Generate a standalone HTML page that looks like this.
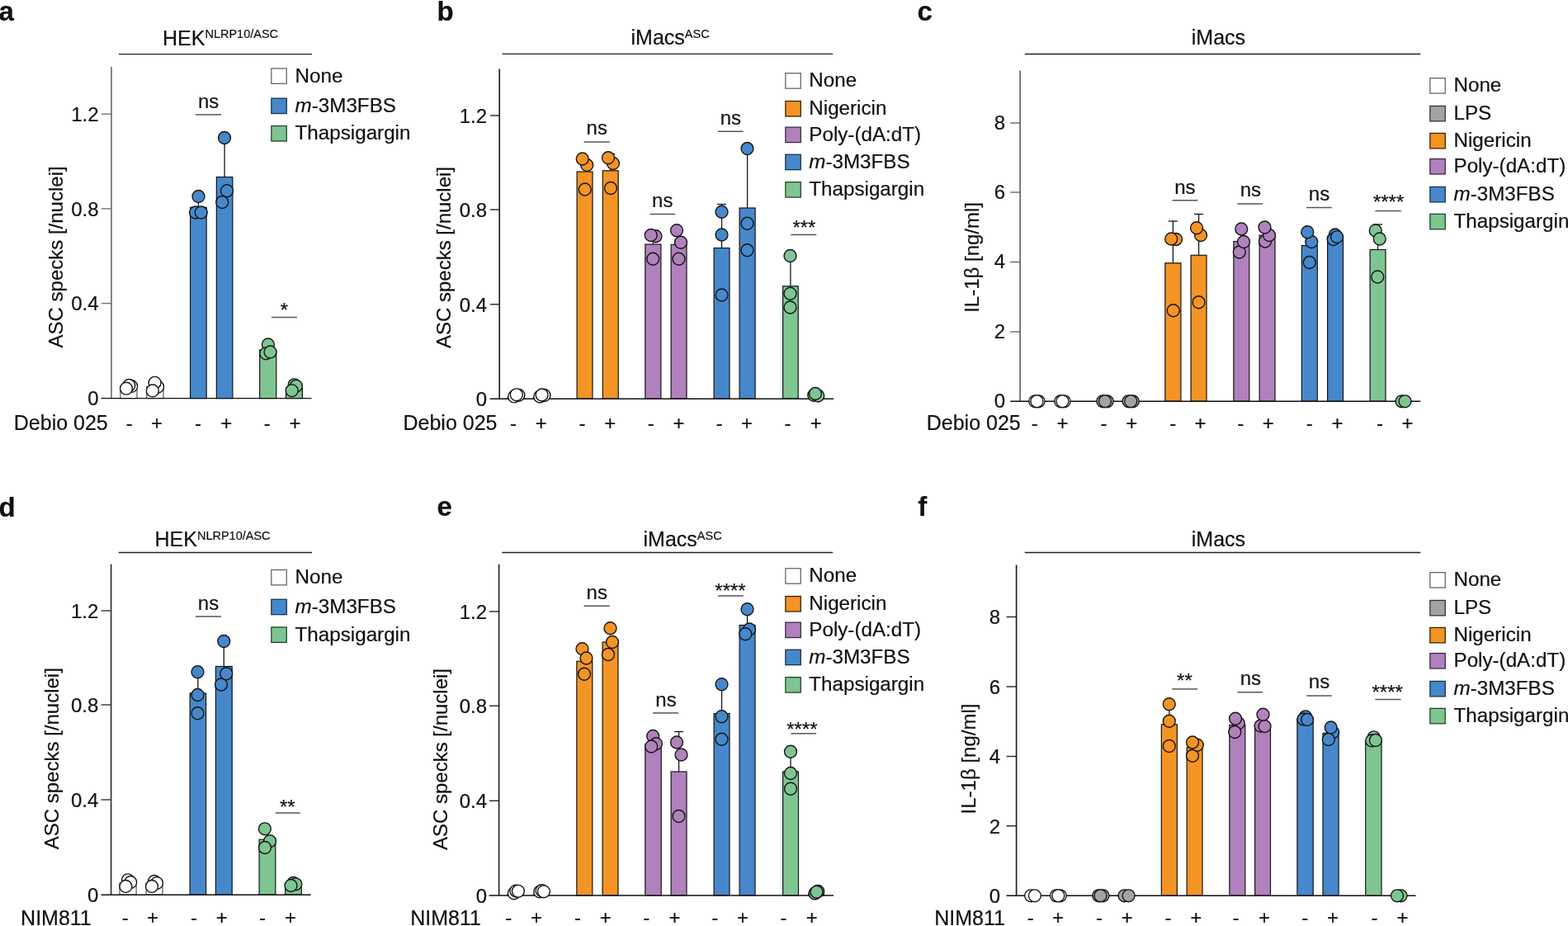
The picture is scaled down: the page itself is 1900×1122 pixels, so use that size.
<!DOCTYPE html>
<html><head><meta charset="utf-8"><title>Figure</title>
<style>
html,body{margin:0;padding:0;background:#fff;}
body{width:1900px;height:1122px;overflow:hidden;}
svg{display:block;}
svg text{font-family:"Liberation Sans", Arial, Helvetica, sans-serif;fill:#111111;stroke:#111111;stroke-width:0.2px;}
</style></head><body>
<svg width="1900" height="1122" viewBox="0 0 1900 1122">
<rect x="0" y="0" width="1900" height="1122" fill="#fff"/>
<text x="-1.50" y="24.60" font-size="33" text-anchor="start" font-weight="bold" >a</text>
<text x="197.00" y="54.60" font-size="25">HEK<tspan font-size="14.5" dy="-8.2">NLRP10/ASC</tspan></text>
<line x1="143.75" y1="65.60" x2="378.00" y2="65.60" stroke="#222" stroke-width="1.3"/>
<line x1="135.00" y1="81.00" x2="135.00" y2="482.60" stroke="#707070" stroke-width="1.7"/>
<text x="119.60" y="491.40" font-size="24" text-anchor="end" >0</text>
<line x1="123.00" y1="367.60" x2="135.00" y2="367.60" stroke="#707070" stroke-width="1.4"/>
<text x="119.60" y="376.40" font-size="24" text-anchor="end" >0.4</text>
<line x1="123.00" y1="252.90" x2="135.00" y2="252.90" stroke="#707070" stroke-width="1.4"/>
<text x="119.60" y="261.70" font-size="24" text-anchor="end" >0.8</text>
<line x1="123.00" y1="138.20" x2="135.00" y2="138.20" stroke="#707070" stroke-width="1.4"/>
<text x="119.60" y="147.00" font-size="24" text-anchor="end" >1.2</text>
<text x="0" y="0" font-size="24" text-anchor="middle" transform="translate(76.20,311.40) rotate(-90)">ASC specks [/nuclei]</text>
<line x1="240.40" y1="251.25" x2="240.40" y2="238.00" stroke="#151515" stroke-width="1.3"/>
<line x1="272.12" y1="214.50" x2="272.12" y2="167.00" stroke="#151515" stroke-width="1.3"/>
<rect x="145.90" y="469.00" width="20.10" height="13.60" fill="#ffffff" stroke="#555" stroke-width="1.2"/>
<rect x="177.80" y="468.50" width="20.20" height="14.10" fill="#ffffff" stroke="#555" stroke-width="1.2"/>
<rect x="230.60" y="251.25" width="19.60" height="231.35" fill="#4688cb" stroke="#151515" stroke-width="1.2"/>
<rect x="262.35" y="214.50" width="19.55" height="268.10" fill="#4688cb" stroke="#151515" stroke-width="1.2"/>
<rect x="314.70" y="424.00" width="20.10" height="58.60" fill="#7fc592" stroke="#151515" stroke-width="1.2"/>
<rect x="346.50" y="470.00" width="19.90" height="12.60" fill="#7fc592" stroke="#151515" stroke-width="1.2"/>
<line x1="122.50" y1="482.60" x2="377.50" y2="482.60" stroke="#111" stroke-width="1.4"/>
<circle cx="159.20" cy="467.90" r="7.45" fill="#ffffff" stroke="#151515" stroke-width="1.4"/>
<circle cx="156.25" cy="466.90" r="7.45" fill="#ffffff" stroke="#151515" stroke-width="1.4"/>
<circle cx="153.00" cy="470.70" r="7.45" fill="#ffffff" stroke="#151515" stroke-width="1.4"/>
<circle cx="191.10" cy="468.80" r="7.45" fill="#ffffff" stroke="#151515" stroke-width="1.4"/>
<circle cx="187.60" cy="463.80" r="7.45" fill="#ffffff" stroke="#151515" stroke-width="1.4"/>
<circle cx="184.90" cy="473.40" r="7.45" fill="#ffffff" stroke="#151515" stroke-width="1.4"/>
<circle cx="240.50" cy="238.00" r="7.45" fill="#4688cb" stroke="#151515" stroke-width="1.4"/>
<circle cx="237.00" cy="257.50" r="7.45" fill="#4688cb" stroke="#151515" stroke-width="1.4"/>
<circle cx="243.75" cy="257.50" r="7.45" fill="#4688cb" stroke="#151515" stroke-width="1.4"/>
<circle cx="272.00" cy="167.00" r="7.45" fill="#4688cb" stroke="#151515" stroke-width="1.4"/>
<circle cx="275.00" cy="231.25" r="7.45" fill="#4688cb" stroke="#151515" stroke-width="1.4"/>
<circle cx="269.25" cy="245.00" r="7.45" fill="#4688cb" stroke="#151515" stroke-width="1.4"/>
<circle cx="324.90" cy="417.40" r="7.45" fill="#7fc592" stroke="#151515" stroke-width="1.4"/>
<circle cx="322.30" cy="428.30" r="7.45" fill="#7fc592" stroke="#151515" stroke-width="1.4"/>
<circle cx="327.50" cy="426.40" r="7.45" fill="#7fc592" stroke="#151515" stroke-width="1.4"/>
<circle cx="356.60" cy="466.30" r="7.45" fill="#7fc592" stroke="#151515" stroke-width="1.4"/>
<circle cx="358.90" cy="467.80" r="7.45" fill="#7fc592" stroke="#151515" stroke-width="1.4"/>
<circle cx="353.70" cy="473.30" r="7.45" fill="#7fc592" stroke="#151515" stroke-width="1.4"/>
<text x="252.60" y="130.70" font-size="24" text-anchor="middle" >ns</text>
<line x1="237.00" y1="138.90" x2="268.00" y2="138.90" stroke="#555" stroke-width="1.5"/>
<text x="344.30" y="383.60" font-size="24" text-anchor="middle" >*</text>
<line x1="329.00" y1="384.50" x2="360.00" y2="384.50" stroke="#555" stroke-width="1.5"/>
<rect x="328.85" y="82.95" width="18.40" height="18.40" fill="#ffffff" stroke="#666" stroke-width="1.3"/>
<text x="357.60" y="99.60" font-size="24.2" text-anchor="start" >None</text>
<rect x="328.85" y="119.15" width="18.40" height="18.40" fill="#4688cb" stroke="#16324f" stroke-width="1.3"/>
<text x="357.60" y="135.80" font-size="24.2" text-anchor="start" ><tspan font-style="italic">m</tspan>-3M3FBS</text>
<rect x="328.85" y="152.55" width="18.40" height="18.40" fill="#7fc592" stroke="#24442c" stroke-width="1.3"/>
<text x="357.60" y="169.20" font-size="24.2" text-anchor="start" >Thapsigargin</text>
<text x="16.80" y="521.00" font-size="25" text-anchor="start" >Debio 025</text>
<text x="156.75" y="521.00" font-size="24" text-anchor="middle" >-</text>
<text x="190.00" y="521.00" font-size="24" text-anchor="middle" >+</text>
<text x="240.00" y="521.00" font-size="24" text-anchor="middle" >-</text>
<text x="274.25" y="521.00" font-size="24" text-anchor="middle" >+</text>
<text x="323.75" y="521.00" font-size="24" text-anchor="middle" >-</text>
<text x="357.50" y="521.00" font-size="24" text-anchor="middle" >+</text>
<text x="529.50" y="24.60" font-size="33" text-anchor="start" font-weight="bold" >b</text>
<text x="764.50" y="54.20" font-size="25">iMacs<tspan font-size="14.5" dy="-8.2">ASC</tspan></text>
<line x1="608.50" y1="65.40" x2="1009.25" y2="65.40" stroke="#222" stroke-width="1.3"/>
<line x1="605.20" y1="83.50" x2="605.20" y2="483.20" stroke="#222" stroke-width="1.7"/>
<text x="590.00" y="492.00" font-size="24" text-anchor="end" >0</text>
<line x1="594.00" y1="368.75" x2="605.20" y2="368.75" stroke="#222" stroke-width="1.4"/>
<text x="590.00" y="377.55" font-size="24" text-anchor="end" >0.4</text>
<line x1="594.00" y1="254.00" x2="605.20" y2="254.00" stroke="#222" stroke-width="1.4"/>
<text x="590.00" y="262.80" font-size="24" text-anchor="end" >0.8</text>
<line x1="594.00" y1="140.00" x2="605.20" y2="140.00" stroke="#222" stroke-width="1.4"/>
<text x="590.00" y="148.80" font-size="24" text-anchor="end" >1.2</text>
<text x="0" y="0" font-size="24" text-anchor="middle" transform="translate(546.20,312.00) rotate(-90)">ASC specks [/nuclei]</text>
<line x1="739.77" y1="206.75" x2="739.77" y2="186.50" stroke="#151515" stroke-width="1.3"/>
<line x1="734.27" y1="186.50" x2="745.27" y2="186.50" stroke="#151515" stroke-width="1.3"/>
<line x1="791.38" y1="296.00" x2="791.38" y2="286.00" stroke="#151515" stroke-width="1.3"/>
<line x1="874.55" y1="300.50" x2="874.55" y2="247.50" stroke="#151515" stroke-width="1.3"/>
<line x1="869.05" y1="247.50" x2="880.05" y2="247.50" stroke="#151515" stroke-width="1.3"/>
<line x1="905.60" y1="252.00" x2="905.60" y2="180.00" stroke="#151515" stroke-width="1.3"/>
<line x1="900.10" y1="180.00" x2="911.10" y2="180.00" stroke="#151515" stroke-width="1.3"/>
<line x1="957.90" y1="346.75" x2="957.90" y2="310.00" stroke="#151515" stroke-width="1.3"/>
<rect x="614.60" y="482.00" width="19.30" height="1.20" fill="#ffffff" stroke="#555" stroke-width="1.2"/>
<rect x="646.10" y="482.00" width="19.30" height="1.20" fill="#ffffff" stroke="#555" stroke-width="1.2"/>
<rect x="699.10" y="208.00" width="18.90" height="275.20" fill="#f39425" stroke="#151515" stroke-width="1.2"/>
<rect x="730.35" y="206.75" width="18.85" height="276.45" fill="#f39425" stroke="#151515" stroke-width="1.2"/>
<rect x="781.85" y="296.00" width="19.05" height="187.20" fill="#b181bd" stroke="#151515" stroke-width="1.2"/>
<rect x="813.10" y="296.25" width="18.90" height="186.95" fill="#b181bd" stroke="#151515" stroke-width="1.2"/>
<rect x="865.10" y="300.50" width="18.90" height="182.70" fill="#4688cb" stroke="#151515" stroke-width="1.2"/>
<rect x="896.10" y="252.00" width="19.00" height="231.20" fill="#4688cb" stroke="#151515" stroke-width="1.2"/>
<rect x="948.60" y="346.75" width="18.60" height="136.45" fill="#7fc592" stroke="#151515" stroke-width="1.2"/>
<rect x="979.60" y="480.50" width="18.80" height="2.70" fill="#7fc592" stroke="#151515" stroke-width="1.2"/>
<line x1="593.75" y1="483.20" x2="1010.00" y2="483.20" stroke="#111" stroke-width="1.4"/>
<circle cx="623.10" cy="480.40" r="7.45" fill="#ffffff" stroke="#151515" stroke-width="1.4"/>
<circle cx="628.40" cy="478.80" r="7.45" fill="#ffffff" stroke="#151515" stroke-width="1.4"/>
<circle cx="625.80" cy="478.30" r="7.45" fill="#ffffff" stroke="#151515" stroke-width="1.4"/>
<circle cx="654.20" cy="480.60" r="7.45" fill="#ffffff" stroke="#151515" stroke-width="1.4"/>
<circle cx="659.50" cy="479.00" r="7.45" fill="#ffffff" stroke="#151515" stroke-width="1.4"/>
<circle cx="656.60" cy="478.40" r="7.45" fill="#ffffff" stroke="#151515" stroke-width="1.4"/>
<circle cx="708.75" cy="229.50" r="7.45" fill="#f39425" stroke="#151515" stroke-width="1.4"/>
<circle cx="711.25" cy="200.00" r="7.45" fill="#f39425" stroke="#151515" stroke-width="1.4"/>
<circle cx="705.75" cy="192.50" r="7.45" fill="#f39425" stroke="#151515" stroke-width="1.4"/>
<circle cx="740.00" cy="228.00" r="7.45" fill="#f39425" stroke="#151515" stroke-width="1.4"/>
<circle cx="743.00" cy="198.00" r="7.45" fill="#f39425" stroke="#151515" stroke-width="1.4"/>
<circle cx="737.00" cy="191.25" r="7.45" fill="#f39425" stroke="#151515" stroke-width="1.4"/>
<circle cx="791.25" cy="313.75" r="7.45" fill="#b181bd" stroke="#151515" stroke-width="1.4"/>
<circle cx="794.50" cy="286.25" r="7.45" fill="#b181bd" stroke="#151515" stroke-width="1.4"/>
<circle cx="788.75" cy="285.00" r="7.45" fill="#b181bd" stroke="#151515" stroke-width="1.4"/>
<circle cx="822.50" cy="313.75" r="7.45" fill="#b181bd" stroke="#151515" stroke-width="1.4"/>
<circle cx="825.00" cy="293.75" r="7.45" fill="#b181bd" stroke="#151515" stroke-width="1.4"/>
<circle cx="820.00" cy="279.25" r="7.45" fill="#b181bd" stroke="#151515" stroke-width="1.4"/>
<circle cx="874.50" cy="357.50" r="7.45" fill="#4688cb" stroke="#151515" stroke-width="1.4"/>
<circle cx="874.50" cy="284.50" r="7.45" fill="#4688cb" stroke="#151515" stroke-width="1.4"/>
<circle cx="874.50" cy="256.75" r="7.45" fill="#4688cb" stroke="#151515" stroke-width="1.4"/>
<circle cx="905.50" cy="303.25" r="7.45" fill="#4688cb" stroke="#151515" stroke-width="1.4"/>
<circle cx="905.50" cy="270.75" r="7.45" fill="#4688cb" stroke="#151515" stroke-width="1.4"/>
<circle cx="905.50" cy="180.00" r="7.45" fill="#4688cb" stroke="#151515" stroke-width="1.4"/>
<circle cx="957.50" cy="372.50" r="7.45" fill="#7fc592" stroke="#151515" stroke-width="1.4"/>
<circle cx="957.50" cy="355.75" r="7.45" fill="#7fc592" stroke="#151515" stroke-width="1.4"/>
<circle cx="957.50" cy="310.00" r="7.45" fill="#7fc592" stroke="#151515" stroke-width="1.4"/>
<circle cx="986.25" cy="478.75" r="7.45" fill="#7fc592" stroke="#151515" stroke-width="1.4"/>
<circle cx="991.25" cy="479.50" r="7.45" fill="#7fc592" stroke="#151515" stroke-width="1.4"/>
<circle cx="988.00" cy="477.00" r="7.45" fill="#7fc592" stroke="#151515" stroke-width="1.4"/>
<text x="723.30" y="162.70" font-size="24" text-anchor="middle" >ns</text>
<line x1="707.50" y1="172.00" x2="738.75" y2="172.00" stroke="#555" stroke-width="1.5"/>
<text x="802.80" y="250.50" font-size="24" text-anchor="middle" >ns</text>
<line x1="787.50" y1="259.50" x2="818.00" y2="259.50" stroke="#555" stroke-width="1.5"/>
<text x="885.40" y="150.50" font-size="24" text-anchor="middle" >ns</text>
<line x1="870.00" y1="159.25" x2="900.75" y2="159.25" stroke="#555" stroke-width="1.5"/>
<text x="974.40" y="283.50" font-size="24" text-anchor="middle" >***</text>
<line x1="958.25" y1="284.40" x2="989.25" y2="284.40" stroke="#555" stroke-width="1.5"/>
<rect x="951.85" y="88.75" width="18.40" height="18.40" fill="#ffffff" stroke="#666" stroke-width="1.3"/>
<text x="980.30" y="105.40" font-size="24.2" text-anchor="start" >None</text>
<rect x="951.85" y="122.55" width="18.40" height="18.40" fill="#f39425" stroke="#3a2200" stroke-width="1.3"/>
<text x="980.30" y="139.20" font-size="24.2" text-anchor="start" >Nigericin</text>
<rect x="951.85" y="154.15" width="18.40" height="18.40" fill="#b181bd" stroke="#3a2a40" stroke-width="1.3"/>
<text x="980.30" y="170.80" font-size="24.2" text-anchor="start" >Poly-(dA:dT)</text>
<rect x="951.85" y="187.25" width="18.40" height="18.40" fill="#4688cb" stroke="#16324f" stroke-width="1.3"/>
<text x="980.30" y="203.90" font-size="24.2" text-anchor="start" ><tspan font-style="italic">m</tspan>-3M3FBS</text>
<rect x="951.85" y="220.65" width="18.40" height="18.40" fill="#7fc592" stroke="#24442c" stroke-width="1.3"/>
<text x="980.30" y="237.30" font-size="24.2" text-anchor="start" >Thapsigargin</text>
<text x="488.50" y="521.00" font-size="25" text-anchor="start" >Debio 025</text>
<text x="622.00" y="521.00" font-size="24" text-anchor="middle" >-</text>
<text x="655.75" y="521.00" font-size="24" text-anchor="middle" >+</text>
<text x="705.50" y="521.00" font-size="24" text-anchor="middle" >-</text>
<text x="739.25" y="521.00" font-size="24" text-anchor="middle" >+</text>
<text x="788.75" y="521.00" font-size="24" text-anchor="middle" >-</text>
<text x="822.50" y="521.00" font-size="24" text-anchor="middle" >+</text>
<text x="871.75" y="521.00" font-size="24" text-anchor="middle" >-</text>
<text x="905.00" y="521.00" font-size="24" text-anchor="middle" >+</text>
<text x="954.50" y="521.00" font-size="24" text-anchor="middle" >-</text>
<text x="988.75" y="521.00" font-size="24" text-anchor="middle" >+</text>
<text x="1111.50" y="24.60" font-size="33" text-anchor="start" font-weight="bold" >c</text>
<text x="1443.80" y="54.40" font-size="25">iMacs</text>
<line x1="1241.75" y1="65.50" x2="1721.25" y2="65.50" stroke="#222" stroke-width="1.3"/>
<line x1="1236.10" y1="85.50" x2="1236.10" y2="486.30" stroke="#666" stroke-width="1.7"/>
<text x="1218.00" y="494.10" font-size="24" text-anchor="end" >0</text>
<line x1="1224.20" y1="402.00" x2="1236.10" y2="402.00" stroke="#666" stroke-width="1.4"/>
<text x="1218.00" y="409.80" font-size="24" text-anchor="end" >2</text>
<line x1="1224.20" y1="317.50" x2="1236.10" y2="317.50" stroke="#666" stroke-width="1.4"/>
<text x="1218.00" y="325.30" font-size="24" text-anchor="end" >4</text>
<line x1="1224.20" y1="233.00" x2="1236.10" y2="233.00" stroke="#666" stroke-width="1.4"/>
<text x="1218.00" y="240.80" font-size="24" text-anchor="end" >6</text>
<line x1="1224.20" y1="149.00" x2="1236.10" y2="149.00" stroke="#666" stroke-width="1.4"/>
<text x="1218.00" y="156.80" font-size="24" text-anchor="end" >8</text>
<text x="0" y="0" font-size="24" text-anchor="middle" transform="translate(1186.00,311.90) rotate(-90)">IL-1β [ng/ml]</text>
<line x1="1421.38" y1="318.75" x2="1421.38" y2="268.00" stroke="#151515" stroke-width="1.3"/>
<line x1="1415.88" y1="268.00" x2="1426.88" y2="268.00" stroke="#151515" stroke-width="1.3"/>
<line x1="1452.55" y1="309.25" x2="1452.55" y2="259.50" stroke="#151515" stroke-width="1.3"/>
<line x1="1447.05" y1="259.50" x2="1458.05" y2="259.50" stroke="#151515" stroke-width="1.3"/>
<line x1="1669.55" y1="302.50" x2="1669.55" y2="272.00" stroke="#151515" stroke-width="1.3"/>
<line x1="1664.05" y1="272.00" x2="1675.05" y2="272.00" stroke="#151515" stroke-width="1.3"/>
<rect x="1246.60" y="485.50" width="18.80" height="0.80" fill="#ffffff" stroke="#555" stroke-width="1.2"/>
<rect x="1277.60" y="485.50" width="18.80" height="0.80" fill="#ffffff" stroke="#555" stroke-width="1.2"/>
<rect x="1329.60" y="485.50" width="18.80" height="0.80" fill="#a3a3a3" stroke="#151515" stroke-width="1.2"/>
<rect x="1360.60" y="485.50" width="18.80" height="0.80" fill="#a3a3a3" stroke="#151515" stroke-width="1.2"/>
<rect x="1411.85" y="318.75" width="19.05" height="167.55" fill="#f39425" stroke="#151515" stroke-width="1.2"/>
<rect x="1443.10" y="309.25" width="18.90" height="177.05" fill="#f39425" stroke="#151515" stroke-width="1.2"/>
<rect x="1494.85" y="292.50" width="18.95" height="193.80" fill="#b181bd" stroke="#151515" stroke-width="1.2"/>
<rect x="1526.10" y="285.00" width="18.90" height="201.30" fill="#b181bd" stroke="#151515" stroke-width="1.2"/>
<rect x="1577.35" y="297.50" width="18.95" height="188.80" fill="#4688cb" stroke="#151515" stroke-width="1.2"/>
<rect x="1608.60" y="286.25" width="18.90" height="200.05" fill="#4688cb" stroke="#151515" stroke-width="1.2"/>
<rect x="1660.10" y="302.50" width="18.90" height="183.80" fill="#7fc592" stroke="#151515" stroke-width="1.2"/>
<rect x="1691.10" y="485.50" width="18.80" height="0.80" fill="#7fc592" stroke="#151515" stroke-width="1.2"/>
<line x1="1224.25" y1="486.30" x2="1721.25" y2="486.30" stroke="#111" stroke-width="1.4"/>
<circle cx="1254.20" cy="486.30" r="7.45" fill="#ffffff" stroke="#151515" stroke-width="1.4"/>
<circle cx="1258.60" cy="486.30" r="7.45" fill="#ffffff" stroke="#151515" stroke-width="1.4"/>
<circle cx="1256.40" cy="486.30" r="7.45" fill="#ffffff" stroke="#151515" stroke-width="1.4"/>
<circle cx="1285.20" cy="486.30" r="7.45" fill="#ffffff" stroke="#151515" stroke-width="1.4"/>
<circle cx="1289.60" cy="486.30" r="7.45" fill="#ffffff" stroke="#151515" stroke-width="1.4"/>
<circle cx="1287.40" cy="486.30" r="7.45" fill="#ffffff" stroke="#151515" stroke-width="1.4"/>
<circle cx="1336.30" cy="486.30" r="7.45" fill="#a3a3a3" stroke="#151515" stroke-width="1.4"/>
<circle cx="1341.70" cy="486.30" r="7.45" fill="#a3a3a3" stroke="#151515" stroke-width="1.4"/>
<circle cx="1339.00" cy="486.30" r="7.45" fill="#a3a3a3" stroke="#151515" stroke-width="1.4"/>
<circle cx="1367.50" cy="486.30" r="7.45" fill="#a3a3a3" stroke="#151515" stroke-width="1.4"/>
<circle cx="1372.80" cy="486.30" r="7.45" fill="#a3a3a3" stroke="#151515" stroke-width="1.4"/>
<circle cx="1370.20" cy="486.30" r="7.45" fill="#a3a3a3" stroke="#151515" stroke-width="1.4"/>
<circle cx="1421.75" cy="376.25" r="7.45" fill="#f39425" stroke="#151515" stroke-width="1.4"/>
<circle cx="1425.00" cy="290.00" r="7.45" fill="#f39425" stroke="#151515" stroke-width="1.4"/>
<circle cx="1419.25" cy="289.50" r="7.45" fill="#f39425" stroke="#151515" stroke-width="1.4"/>
<circle cx="1452.50" cy="366.25" r="7.45" fill="#f39425" stroke="#151515" stroke-width="1.4"/>
<circle cx="1455.00" cy="285.00" r="7.45" fill="#f39425" stroke="#151515" stroke-width="1.4"/>
<circle cx="1450.00" cy="276.25" r="7.45" fill="#f39425" stroke="#151515" stroke-width="1.4"/>
<circle cx="1501.75" cy="305.50" r="7.45" fill="#b181bd" stroke="#151515" stroke-width="1.4"/>
<circle cx="1507.00" cy="293.00" r="7.45" fill="#b181bd" stroke="#151515" stroke-width="1.4"/>
<circle cx="1504.25" cy="277.50" r="7.45" fill="#b181bd" stroke="#151515" stroke-width="1.4"/>
<circle cx="1533.00" cy="292.50" r="7.45" fill="#b181bd" stroke="#151515" stroke-width="1.4"/>
<circle cx="1538.00" cy="285.00" r="7.45" fill="#b181bd" stroke="#151515" stroke-width="1.4"/>
<circle cx="1532.50" cy="275.50" r="7.45" fill="#b181bd" stroke="#151515" stroke-width="1.4"/>
<circle cx="1586.75" cy="318.00" r="7.45" fill="#4688cb" stroke="#151515" stroke-width="1.4"/>
<circle cx="1589.25" cy="293.00" r="7.45" fill="#4688cb" stroke="#151515" stroke-width="1.4"/>
<circle cx="1584.25" cy="281.25" r="7.45" fill="#4688cb" stroke="#151515" stroke-width="1.4"/>
<circle cx="1617.80" cy="284.50" r="7.45" fill="#4688cb" stroke="#151515" stroke-width="1.4"/>
<circle cx="1615.60" cy="290.00" r="7.45" fill="#4688cb" stroke="#151515" stroke-width="1.4"/>
<circle cx="1620.10" cy="287.10" r="7.45" fill="#4688cb" stroke="#151515" stroke-width="1.4"/>
<circle cx="1669.25" cy="335.50" r="7.45" fill="#7fc592" stroke="#151515" stroke-width="1.4"/>
<circle cx="1666.75" cy="279.50" r="7.45" fill="#7fc592" stroke="#151515" stroke-width="1.4"/>
<circle cx="1671.75" cy="289.50" r="7.45" fill="#7fc592" stroke="#151515" stroke-width="1.4"/>
<circle cx="1698.50" cy="486.30" r="7.45" fill="#7fc592" stroke="#151515" stroke-width="1.4"/>
<circle cx="1702.50" cy="486.30" r="7.45" fill="#7fc592" stroke="#151515" stroke-width="1.4"/>
<text x="1435.90" y="235.00" font-size="24" text-anchor="middle" >ns</text>
<line x1="1420.50" y1="242.75" x2="1451.25" y2="242.75" stroke="#555" stroke-width="1.5"/>
<text x="1515.40" y="238.00" font-size="24" text-anchor="middle" >ns</text>
<line x1="1499.50" y1="247.00" x2="1530.00" y2="247.00" stroke="#555" stroke-width="1.5"/>
<text x="1598.50" y="242.50" font-size="24" text-anchor="middle" >ns</text>
<line x1="1583.00" y1="251.50" x2="1613.75" y2="251.50" stroke="#555" stroke-width="1.5"/>
<text x="1682.60" y="252.80" font-size="24" text-anchor="middle" >****</text>
<line x1="1666.40" y1="255.50" x2="1697.80" y2="255.50" stroke="#555" stroke-width="1.5"/>
<rect x="1732.85" y="94.65" width="18.40" height="18.40" fill="#ffffff" stroke="#666" stroke-width="1.3"/>
<text x="1761.50" y="111.30" font-size="24.2" text-anchor="start" >None</text>
<rect x="1732.85" y="128.45" width="18.40" height="18.40" fill="#a3a3a3" stroke="#333" stroke-width="1.3"/>
<text x="1761.50" y="145.10" font-size="24.2" text-anchor="start" >LPS</text>
<rect x="1732.85" y="161.45" width="18.40" height="18.40" fill="#f39425" stroke="#3a2200" stroke-width="1.3"/>
<text x="1761.50" y="178.10" font-size="24.2" text-anchor="start" >Nigericin</text>
<rect x="1732.85" y="192.55" width="18.40" height="18.40" fill="#b181bd" stroke="#3a2a40" stroke-width="1.3"/>
<text x="1761.50" y="209.20" font-size="24.2" text-anchor="start" >Poly-(dA:dT)</text>
<rect x="1732.85" y="226.45" width="18.40" height="18.40" fill="#4688cb" stroke="#16324f" stroke-width="1.3"/>
<text x="1761.50" y="243.10" font-size="24.2" text-anchor="start" ><tspan font-style="italic">m</tspan>-3M3FBS</text>
<rect x="1732.85" y="259.35" width="18.40" height="18.40" fill="#7fc592" stroke="#24442c" stroke-width="1.3"/>
<text x="1761.50" y="276.00" font-size="24.2" text-anchor="start" >Thapsigargin</text>
<text x="1122.75" y="521.00" font-size="25" text-anchor="start" >Debio 025</text>
<text x="1253.75" y="521.00" font-size="24" text-anchor="middle" >-</text>
<text x="1287.50" y="521.00" font-size="24" text-anchor="middle" >+</text>
<text x="1337.50" y="521.00" font-size="24" text-anchor="middle" >-</text>
<text x="1371.25" y="521.00" font-size="24" text-anchor="middle" >+</text>
<text x="1421.25" y="521.00" font-size="24" text-anchor="middle" >-</text>
<text x="1454.50" y="521.00" font-size="24" text-anchor="middle" >+</text>
<text x="1503.25" y="521.00" font-size="24" text-anchor="middle" >-</text>
<text x="1536.75" y="521.00" font-size="24" text-anchor="middle" >+</text>
<text x="1586.75" y="521.00" font-size="24" text-anchor="middle" >-</text>
<text x="1620.50" y="521.00" font-size="24" text-anchor="middle" >+</text>
<text x="1672.00" y="521.00" font-size="24" text-anchor="middle" >-</text>
<text x="1705.50" y="521.00" font-size="24" text-anchor="middle" >+</text>
<text x="-1.50" y="626.00" font-size="33" text-anchor="start" font-weight="bold" >d</text>
<text x="187.50" y="662.00" font-size="25">HEK<tspan font-size="14.5" dy="-8.2">NLRP10/ASC</tspan></text>
<line x1="143.75" y1="669.50" x2="378.00" y2="669.50" stroke="#222" stroke-width="1.3"/>
<line x1="134.60" y1="683.75" x2="134.60" y2="1084.20" stroke="#333" stroke-width="1.7"/>
<text x="119.40" y="1093.00" font-size="24" text-anchor="end" >0</text>
<line x1="122.50" y1="969.00" x2="134.60" y2="969.00" stroke="#333" stroke-width="1.4"/>
<text x="119.40" y="977.80" font-size="24" text-anchor="end" >0.4</text>
<line x1="122.50" y1="854.00" x2="134.60" y2="854.00" stroke="#333" stroke-width="1.4"/>
<text x="119.40" y="862.80" font-size="24" text-anchor="end" >0.8</text>
<line x1="122.50" y1="740.00" x2="134.60" y2="740.00" stroke="#333" stroke-width="1.4"/>
<text x="119.40" y="748.80" font-size="24" text-anchor="end" >1.2</text>
<text x="0" y="0" font-size="24" text-anchor="middle" transform="translate(71.20,919.20) rotate(-90)">ASC specks [/nuclei]</text>
<line x1="239.85" y1="840.00" x2="239.85" y2="814.25" stroke="#151515" stroke-width="1.3"/>
<line x1="271.27" y1="807.50" x2="271.27" y2="777.00" stroke="#151515" stroke-width="1.3"/>
<rect x="145.00" y="1070.00" width="20.10" height="14.20" fill="#ffffff" stroke="#555" stroke-width="1.2"/>
<rect x="177.10" y="1070.00" width="19.90" height="14.20" fill="#ffffff" stroke="#555" stroke-width="1.2"/>
<rect x="230.10" y="840.00" width="19.50" height="244.20" fill="#4688cb" stroke="#151515" stroke-width="1.2"/>
<rect x="261.35" y="807.50" width="19.85" height="276.70" fill="#4688cb" stroke="#151515" stroke-width="1.2"/>
<rect x="314.10" y="1017.20" width="19.70" height="67.00" fill="#7fc592" stroke="#151515" stroke-width="1.2"/>
<rect x="345.70" y="1071.00" width="19.60" height="13.20" fill="#7fc592" stroke="#151515" stroke-width="1.2"/>
<line x1="122.50" y1="1084.20" x2="376.75" y2="1084.20" stroke="#111" stroke-width="1.4"/>
<circle cx="155.00" cy="1066.30" r="7.45" fill="#ffffff" stroke="#151515" stroke-width="1.4"/>
<circle cx="158.20" cy="1069.00" r="7.45" fill="#ffffff" stroke="#151515" stroke-width="1.4"/>
<circle cx="152.40" cy="1073.90" r="7.45" fill="#ffffff" stroke="#151515" stroke-width="1.4"/>
<circle cx="187.00" cy="1068.00" r="7.45" fill="#ffffff" stroke="#151515" stroke-width="1.4"/>
<circle cx="190.00" cy="1070.10" r="7.45" fill="#ffffff" stroke="#151515" stroke-width="1.4"/>
<circle cx="184.00" cy="1073.90" r="7.45" fill="#ffffff" stroke="#151515" stroke-width="1.4"/>
<circle cx="239.50" cy="864.25" r="7.45" fill="#4688cb" stroke="#151515" stroke-width="1.4"/>
<circle cx="239.50" cy="842.00" r="7.45" fill="#4688cb" stroke="#151515" stroke-width="1.4"/>
<circle cx="239.50" cy="814.25" r="7.45" fill="#4688cb" stroke="#151515" stroke-width="1.4"/>
<circle cx="268.00" cy="829.50" r="7.45" fill="#4688cb" stroke="#151515" stroke-width="1.4"/>
<circle cx="274.25" cy="816.25" r="7.45" fill="#4688cb" stroke="#151515" stroke-width="1.4"/>
<circle cx="271.25" cy="777.00" r="7.45" fill="#4688cb" stroke="#151515" stroke-width="1.4"/>
<circle cx="320.90" cy="1004.30" r="7.45" fill="#7fc592" stroke="#151515" stroke-width="1.4"/>
<circle cx="327.00" cy="1019.20" r="7.45" fill="#7fc592" stroke="#151515" stroke-width="1.4"/>
<circle cx="321.00" cy="1027.00" r="7.45" fill="#7fc592" stroke="#151515" stroke-width="1.4"/>
<circle cx="355.40" cy="1069.90" r="7.45" fill="#7fc592" stroke="#151515" stroke-width="1.4"/>
<circle cx="358.30" cy="1071.30" r="7.45" fill="#7fc592" stroke="#151515" stroke-width="1.4"/>
<circle cx="352.50" cy="1073.00" r="7.45" fill="#7fc592" stroke="#151515" stroke-width="1.4"/>
<text x="252.50" y="738.90" font-size="24" text-anchor="middle" >ns</text>
<line x1="237.00" y1="747.00" x2="268.00" y2="747.00" stroke="#555" stroke-width="1.5"/>
<text x="348.30" y="986.00" font-size="24" text-anchor="middle" >**</text>
<line x1="333.75" y1="985.00" x2="363.75" y2="985.00" stroke="#555" stroke-width="1.5"/>
<rect x="328.85" y="690.45" width="18.40" height="18.40" fill="#ffffff" stroke="#666" stroke-width="1.3"/>
<text x="357.60" y="707.10" font-size="24.2" text-anchor="start" >None</text>
<rect x="328.85" y="726.25" width="18.40" height="18.40" fill="#4688cb" stroke="#16324f" stroke-width="1.3"/>
<text x="357.60" y="742.90" font-size="24.2" text-anchor="start" ><tspan font-style="italic">m</tspan>-3M3FBS</text>
<rect x="328.85" y="759.95" width="18.40" height="18.40" fill="#7fc592" stroke="#24442c" stroke-width="1.3"/>
<text x="357.60" y="776.60" font-size="24.2" text-anchor="start" >Thapsigargin</text>
<text x="25.10" y="1120.50" font-size="25" text-anchor="start" >NIM811</text>
<text x="151.75" y="1119.70" font-size="24" text-anchor="middle" >-</text>
<text x="185.00" y="1119.70" font-size="24" text-anchor="middle" >+</text>
<text x="235.00" y="1119.70" font-size="24" text-anchor="middle" >-</text>
<text x="268.75" y="1119.70" font-size="24" text-anchor="middle" >+</text>
<text x="318.00" y="1119.70" font-size="24" text-anchor="middle" >-</text>
<text x="352.00" y="1119.70" font-size="24" text-anchor="middle" >+</text>
<text x="529.50" y="625.00" font-size="33" text-anchor="start" font-weight="bold" >e</text>
<text x="779.50" y="661.80" font-size="25">iMacs<tspan font-size="14.5" dy="-8.2">ASC</tspan></text>
<line x1="608.25" y1="669.50" x2="1009.25" y2="669.50" stroke="#222" stroke-width="1.3"/>
<line x1="604.60" y1="683.75" x2="604.60" y2="1085.00" stroke="#222" stroke-width="1.7"/>
<text x="590.00" y="1093.80" font-size="24" text-anchor="end" >0</text>
<line x1="593.00" y1="970.25" x2="604.60" y2="970.25" stroke="#222" stroke-width="1.4"/>
<text x="590.00" y="979.05" font-size="24" text-anchor="end" >0.4</text>
<line x1="593.00" y1="855.25" x2="604.60" y2="855.25" stroke="#222" stroke-width="1.4"/>
<text x="590.00" y="864.05" font-size="24" text-anchor="end" >0.8</text>
<line x1="593.00" y1="741.00" x2="604.60" y2="741.00" stroke="#222" stroke-width="1.4"/>
<text x="590.00" y="749.80" font-size="24" text-anchor="end" >1.2</text>
<text x="0" y="0" font-size="24" text-anchor="middle" transform="translate(542.40,920.00) rotate(-90)">ASC specks [/nuclei]</text>
<line x1="822.55" y1="935.00" x2="822.55" y2="886.50" stroke="#151515" stroke-width="1.3"/>
<line x1="817.05" y1="886.50" x2="828.05" y2="886.50" stroke="#151515" stroke-width="1.3"/>
<line x1="874.55" y1="864.50" x2="874.55" y2="829.25" stroke="#151515" stroke-width="1.3"/>
<line x1="905.55" y1="757.50" x2="905.55" y2="738.25" stroke="#151515" stroke-width="1.3"/>
<line x1="958.05" y1="935.00" x2="958.05" y2="910.75" stroke="#151515" stroke-width="1.3"/>
<rect x="614.60" y="1084.00" width="18.80" height="1.00" fill="#ffffff" stroke="#555" stroke-width="1.2"/>
<rect x="646.10" y="1084.00" width="18.80" height="1.00" fill="#ffffff" stroke="#555" stroke-width="1.2"/>
<rect x="698.85" y="801.25" width="18.95" height="283.75" fill="#f39425" stroke="#151515" stroke-width="1.2"/>
<rect x="730.10" y="778.00" width="18.90" height="307.00" fill="#f39425" stroke="#151515" stroke-width="1.2"/>
<rect x="781.85" y="902.00" width="19.35" height="183.00" fill="#b181bd" stroke="#151515" stroke-width="1.2"/>
<rect x="813.10" y="935.00" width="18.90" height="150.00" fill="#b181bd" stroke="#151515" stroke-width="1.2"/>
<rect x="865.10" y="864.50" width="18.90" height="220.50" fill="#4688cb" stroke="#151515" stroke-width="1.2"/>
<rect x="896.10" y="757.50" width="18.90" height="327.50" fill="#4688cb" stroke="#151515" stroke-width="1.2"/>
<rect x="948.60" y="935.00" width="18.90" height="150.00" fill="#7fc592" stroke="#151515" stroke-width="1.2"/>
<rect x="979.60" y="1083.00" width="18.80" height="2.00" fill="#7fc592" stroke="#151515" stroke-width="1.2"/>
<line x1="592.50" y1="1085.00" x2="1010.00" y2="1085.00" stroke="#111" stroke-width="1.4"/>
<circle cx="622.90" cy="1082.30" r="7.45" fill="#ffffff" stroke="#151515" stroke-width="1.4"/>
<circle cx="625.30" cy="1079.60" r="7.45" fill="#ffffff" stroke="#151515" stroke-width="1.4"/>
<circle cx="627.90" cy="1079.80" r="7.45" fill="#ffffff" stroke="#151515" stroke-width="1.4"/>
<circle cx="654.20" cy="1080.40" r="7.45" fill="#ffffff" stroke="#151515" stroke-width="1.4"/>
<circle cx="656.60" cy="1079.20" r="7.45" fill="#ffffff" stroke="#151515" stroke-width="1.4"/>
<circle cx="658.90" cy="1080.30" r="7.45" fill="#ffffff" stroke="#151515" stroke-width="1.4"/>
<circle cx="705.50" cy="786.25" r="7.45" fill="#f39425" stroke="#151515" stroke-width="1.4"/>
<circle cx="710.50" cy="797.50" r="7.45" fill="#f39425" stroke="#151515" stroke-width="1.4"/>
<circle cx="708.00" cy="816.75" r="7.45" fill="#f39425" stroke="#151515" stroke-width="1.4"/>
<circle cx="737.00" cy="793.00" r="7.45" fill="#f39425" stroke="#151515" stroke-width="1.4"/>
<circle cx="742.00" cy="778.00" r="7.45" fill="#f39425" stroke="#151515" stroke-width="1.4"/>
<circle cx="739.50" cy="761.25" r="7.45" fill="#f39425" stroke="#151515" stroke-width="1.4"/>
<circle cx="791.25" cy="892.00" r="7.45" fill="#b181bd" stroke="#151515" stroke-width="1.4"/>
<circle cx="795.00" cy="901.25" r="7.45" fill="#b181bd" stroke="#151515" stroke-width="1.4"/>
<circle cx="789.25" cy="904.50" r="7.45" fill="#b181bd" stroke="#151515" stroke-width="1.4"/>
<circle cx="822.50" cy="989.00" r="7.45" fill="#b181bd" stroke="#151515" stroke-width="1.4"/>
<circle cx="825.50" cy="914.50" r="7.45" fill="#b181bd" stroke="#151515" stroke-width="1.4"/>
<circle cx="820.00" cy="899.50" r="7.45" fill="#b181bd" stroke="#151515" stroke-width="1.4"/>
<circle cx="874.50" cy="895.75" r="7.45" fill="#4688cb" stroke="#151515" stroke-width="1.4"/>
<circle cx="874.50" cy="868.25" r="7.45" fill="#4688cb" stroke="#151515" stroke-width="1.4"/>
<circle cx="874.50" cy="829.25" r="7.45" fill="#4688cb" stroke="#151515" stroke-width="1.4"/>
<circle cx="905.50" cy="738.25" r="7.45" fill="#4688cb" stroke="#151515" stroke-width="1.4"/>
<circle cx="908.00" cy="762.50" r="7.45" fill="#4688cb" stroke="#151515" stroke-width="1.4"/>
<circle cx="903.25" cy="768.25" r="7.45" fill="#4688cb" stroke="#151515" stroke-width="1.4"/>
<circle cx="958.00" cy="955.75" r="7.45" fill="#7fc592" stroke="#151515" stroke-width="1.4"/>
<circle cx="958.00" cy="937.00" r="7.45" fill="#7fc592" stroke="#151515" stroke-width="1.4"/>
<circle cx="958.00" cy="910.75" r="7.45" fill="#7fc592" stroke="#151515" stroke-width="1.4"/>
<circle cx="987.50" cy="1082.50" r="7.45" fill="#7fc592" stroke="#151515" stroke-width="1.4"/>
<circle cx="991.25" cy="1080.00" r="7.45" fill="#7fc592" stroke="#151515" stroke-width="1.4"/>
<circle cx="989.50" cy="1080.75" r="7.45" fill="#7fc592" stroke="#151515" stroke-width="1.4"/>
<text x="723.30" y="726.40" font-size="24" text-anchor="middle" >ns</text>
<line x1="707.50" y1="734.25" x2="738.75" y2="734.25" stroke="#555" stroke-width="1.5"/>
<text x="807.00" y="855.50" font-size="24" text-anchor="middle" >ns</text>
<line x1="791.00" y1="863.90" x2="822.00" y2="863.90" stroke="#555" stroke-width="1.5"/>
<text x="885.00" y="723.75" font-size="24" text-anchor="middle" >****</text>
<line x1="870.00" y1="722.00" x2="900.75" y2="722.00" stroke="#555" stroke-width="1.5"/>
<text x="971.90" y="892.10" font-size="24" text-anchor="middle" >****</text>
<line x1="958.30" y1="888.80" x2="989.00" y2="888.80" stroke="#555" stroke-width="1.5"/>
<rect x="951.85" y="688.75" width="18.40" height="18.40" fill="#ffffff" stroke="#666" stroke-width="1.3"/>
<text x="980.30" y="705.40" font-size="24.2" text-anchor="start" >None</text>
<rect x="951.85" y="722.55" width="18.40" height="18.40" fill="#f39425" stroke="#3a2200" stroke-width="1.3"/>
<text x="980.30" y="739.20" font-size="24.2" text-anchor="start" >Nigericin</text>
<rect x="951.85" y="754.15" width="18.40" height="18.40" fill="#b181bd" stroke="#3a2a40" stroke-width="1.3"/>
<text x="980.30" y="770.80" font-size="24.2" text-anchor="start" >Poly-(dA:dT)</text>
<rect x="951.85" y="787.25" width="18.40" height="18.40" fill="#4688cb" stroke="#16324f" stroke-width="1.3"/>
<text x="980.30" y="803.90" font-size="24.2" text-anchor="start" ><tspan font-style="italic">m</tspan>-3M3FBS</text>
<rect x="951.85" y="820.65" width="18.40" height="18.40" fill="#7fc592" stroke="#24442c" stroke-width="1.3"/>
<text x="980.30" y="837.30" font-size="24.2" text-anchor="start" >Thapsigargin</text>
<text x="497.30" y="1120.50" font-size="25" text-anchor="start" >NIM811</text>
<text x="616.25" y="1119.70" font-size="24" text-anchor="middle" >-</text>
<text x="650.00" y="1119.70" font-size="24" text-anchor="middle" >+</text>
<text x="700.00" y="1119.70" font-size="24" text-anchor="middle" >-</text>
<text x="733.75" y="1119.70" font-size="24" text-anchor="middle" >+</text>
<text x="783.25" y="1119.70" font-size="24" text-anchor="middle" >-</text>
<text x="817.50" y="1119.70" font-size="24" text-anchor="middle" >+</text>
<text x="866.25" y="1119.70" font-size="24" text-anchor="middle" >-</text>
<text x="900.00" y="1119.70" font-size="24" text-anchor="middle" >+</text>
<text x="949.50" y="1119.70" font-size="24" text-anchor="middle" >-</text>
<text x="983.75" y="1119.70" font-size="24" text-anchor="middle" >+</text>
<text x="1112.20" y="625.00" font-size="33" text-anchor="start" font-weight="bold" >f</text>
<text x="1443.80" y="662.00" font-size="25">iMacs</text>
<line x1="1241.75" y1="669.50" x2="1721.25" y2="669.50" stroke="#222" stroke-width="1.3"/>
<line x1="1231.60" y1="684.50" x2="1231.60" y2="1085.20" stroke="#222" stroke-width="1.7"/>
<text x="1212.00" y="1094.00" font-size="24" text-anchor="end" >0</text>
<line x1="1219.50" y1="1000.75" x2="1231.60" y2="1000.75" stroke="#222" stroke-width="1.4"/>
<text x="1212.00" y="1009.55" font-size="24" text-anchor="end" >2</text>
<line x1="1219.50" y1="916.50" x2="1231.60" y2="916.50" stroke="#222" stroke-width="1.4"/>
<text x="1212.00" y="925.30" font-size="24" text-anchor="end" >4</text>
<line x1="1219.50" y1="832.00" x2="1231.60" y2="832.00" stroke="#222" stroke-width="1.4"/>
<text x="1212.00" y="840.80" font-size="24" text-anchor="end" >6</text>
<line x1="1219.50" y1="747.50" x2="1231.60" y2="747.50" stroke="#222" stroke-width="1.4"/>
<text x="1212.00" y="756.30" font-size="24" text-anchor="end" >8</text>
<text x="0" y="0" font-size="24" text-anchor="middle" transform="translate(1182.00,919.50) rotate(-90)">IL-1β [ng/ml]</text>
<line x1="1416.83" y1="877.75" x2="1416.83" y2="853.25" stroke="#151515" stroke-width="1.3"/>
<rect x="1241.60" y="1084.50" width="18.80" height="0.70" fill="#ffffff" stroke="#555" stroke-width="1.2"/>
<rect x="1272.60" y="1084.50" width="18.80" height="0.70" fill="#ffffff" stroke="#555" stroke-width="1.2"/>
<rect x="1324.10" y="1084.50" width="18.80" height="0.70" fill="#a3a3a3" stroke="#151515" stroke-width="1.2"/>
<rect x="1355.10" y="1084.50" width="18.80" height="0.70" fill="#a3a3a3" stroke="#151515" stroke-width="1.2"/>
<rect x="1407.35" y="877.75" width="18.95" height="207.45" fill="#f39425" stroke="#151515" stroke-width="1.2"/>
<rect x="1438.10" y="905.75" width="18.90" height="179.45" fill="#f39425" stroke="#151515" stroke-width="1.2"/>
<rect x="1489.85" y="878.50" width="18.95" height="206.70" fill="#b181bd" stroke="#151515" stroke-width="1.2"/>
<rect x="1520.60" y="880.50" width="18.90" height="204.70" fill="#b181bd" stroke="#151515" stroke-width="1.2"/>
<rect x="1571.90" y="870.75" width="19.30" height="214.45" fill="#4688cb" stroke="#151515" stroke-width="1.2"/>
<rect x="1603.00" y="888.20" width="19.10" height="197.00" fill="#4688cb" stroke="#151515" stroke-width="1.2"/>
<rect x="1654.70" y="897.50" width="19.30" height="187.70" fill="#7fc592" stroke="#151515" stroke-width="1.2"/>
<rect x="1685.60" y="1084.50" width="18.80" height="0.70" fill="#7fc592" stroke="#151515" stroke-width="1.2"/>
<line x1="1219.50" y1="1085.20" x2="1715.50" y2="1085.20" stroke="#111" stroke-width="1.4"/>
<circle cx="1249.20" cy="1085.30" r="7.45" fill="#ffffff" stroke="#151515" stroke-width="1.4"/>
<circle cx="1253.80" cy="1085.30" r="7.45" fill="#ffffff" stroke="#151515" stroke-width="1.4"/>
<circle cx="1280.00" cy="1085.30" r="7.45" fill="#ffffff" stroke="#151515" stroke-width="1.4"/>
<circle cx="1284.70" cy="1085.30" r="7.45" fill="#ffffff" stroke="#151515" stroke-width="1.4"/>
<circle cx="1282.30" cy="1085.30" r="7.45" fill="#ffffff" stroke="#151515" stroke-width="1.4"/>
<circle cx="1331.20" cy="1085.30" r="7.45" fill="#a3a3a3" stroke="#151515" stroke-width="1.4"/>
<circle cx="1336.50" cy="1085.30" r="7.45" fill="#a3a3a3" stroke="#151515" stroke-width="1.4"/>
<circle cx="1333.50" cy="1085.30" r="7.45" fill="#a3a3a3" stroke="#151515" stroke-width="1.4"/>
<circle cx="1362.50" cy="1085.30" r="7.45" fill="#a3a3a3" stroke="#151515" stroke-width="1.4"/>
<circle cx="1367.60" cy="1085.30" r="7.45" fill="#a3a3a3" stroke="#151515" stroke-width="1.4"/>
<circle cx="1416.75" cy="904.00" r="7.45" fill="#f39425" stroke="#151515" stroke-width="1.4"/>
<circle cx="1416.75" cy="873.75" r="7.45" fill="#f39425" stroke="#151515" stroke-width="1.4"/>
<circle cx="1416.75" cy="853.25" r="7.45" fill="#f39425" stroke="#151515" stroke-width="1.4"/>
<circle cx="1445.00" cy="915.75" r="7.45" fill="#f39425" stroke="#151515" stroke-width="1.4"/>
<circle cx="1450.75" cy="902.75" r="7.45" fill="#f39425" stroke="#151515" stroke-width="1.4"/>
<circle cx="1445.00" cy="899.50" r="7.45" fill="#f39425" stroke="#151515" stroke-width="1.4"/>
<circle cx="1500.75" cy="876.25" r="7.45" fill="#b181bd" stroke="#151515" stroke-width="1.4"/>
<circle cx="1497.00" cy="870.75" r="7.45" fill="#b181bd" stroke="#151515" stroke-width="1.4"/>
<circle cx="1496.25" cy="887.00" r="7.45" fill="#b181bd" stroke="#151515" stroke-width="1.4"/>
<circle cx="1527.50" cy="879.50" r="7.45" fill="#b181bd" stroke="#151515" stroke-width="1.4"/>
<circle cx="1532.50" cy="880.00" r="7.45" fill="#b181bd" stroke="#151515" stroke-width="1.4"/>
<circle cx="1530.50" cy="865.75" r="7.45" fill="#b181bd" stroke="#151515" stroke-width="1.4"/>
<circle cx="1581.90" cy="868.30" r="7.45" fill="#4688cb" stroke="#151515" stroke-width="1.4"/>
<circle cx="1579.40" cy="871.40" r="7.45" fill="#4688cb" stroke="#151515" stroke-width="1.4"/>
<circle cx="1584.10" cy="871.90" r="7.45" fill="#4688cb" stroke="#151515" stroke-width="1.4"/>
<circle cx="1615.20" cy="887.20" r="7.45" fill="#4688cb" stroke="#151515" stroke-width="1.4"/>
<circle cx="1612.70" cy="881.40" r="7.45" fill="#4688cb" stroke="#151515" stroke-width="1.4"/>
<circle cx="1609.80" cy="896.10" r="7.45" fill="#4688cb" stroke="#151515" stroke-width="1.4"/>
<circle cx="1664.70" cy="893.30" r="7.45" fill="#7fc592" stroke="#151515" stroke-width="1.4"/>
<circle cx="1662.20" cy="897.40" r="7.45" fill="#7fc592" stroke="#151515" stroke-width="1.4"/>
<circle cx="1666.90" cy="896.90" r="7.45" fill="#7fc592" stroke="#151515" stroke-width="1.4"/>
<circle cx="1697.50" cy="1085.30" r="7.45" fill="#7fc592" stroke="#151515" stroke-width="1.4"/>
<circle cx="1693.00" cy="1085.30" r="7.45" fill="#7fc592" stroke="#151515" stroke-width="1.4"/>
<text x="1435.40" y="832.50" font-size="24" text-anchor="middle" >**</text>
<line x1="1420.10" y1="834.90" x2="1451.20" y2="834.90" stroke="#555" stroke-width="1.5"/>
<text x="1515.40" y="830.00" font-size="24" text-anchor="middle" >ns</text>
<line x1="1499.50" y1="838.75" x2="1530.00" y2="838.75" stroke="#555" stroke-width="1.5"/>
<text x="1598.50" y="833.75" font-size="24" text-anchor="middle" >ns</text>
<line x1="1583.25" y1="843.00" x2="1613.75" y2="843.00" stroke="#555" stroke-width="1.5"/>
<text x="1681.20" y="847.10" font-size="24" text-anchor="middle" >****</text>
<line x1="1666.40" y1="847.50" x2="1697.60" y2="847.50" stroke="#555" stroke-width="1.5"/>
<rect x="1732.85" y="693.65" width="18.40" height="18.40" fill="#ffffff" stroke="#666" stroke-width="1.3"/>
<text x="1761.50" y="710.30" font-size="24.2" text-anchor="start" >None</text>
<rect x="1732.85" y="727.45" width="18.40" height="18.40" fill="#a3a3a3" stroke="#333" stroke-width="1.3"/>
<text x="1761.50" y="744.10" font-size="24.2" text-anchor="start" >LPS</text>
<rect x="1732.85" y="760.45" width="18.40" height="18.40" fill="#f39425" stroke="#3a2200" stroke-width="1.3"/>
<text x="1761.50" y="777.10" font-size="24.2" text-anchor="start" >Nigericin</text>
<rect x="1732.85" y="791.55" width="18.40" height="18.40" fill="#b181bd" stroke="#3a2a40" stroke-width="1.3"/>
<text x="1761.50" y="808.20" font-size="24.2" text-anchor="start" >Poly-(dA:dT)</text>
<rect x="1732.85" y="825.45" width="18.40" height="18.40" fill="#4688cb" stroke="#16324f" stroke-width="1.3"/>
<text x="1761.50" y="842.10" font-size="24.2" text-anchor="start" ><tspan font-style="italic">m</tspan>-3M3FBS</text>
<rect x="1732.85" y="858.35" width="18.40" height="18.40" fill="#7fc592" stroke="#24442c" stroke-width="1.3"/>
<text x="1761.50" y="875.00" font-size="24.2" text-anchor="start" >Thapsigargin</text>
<text x="1132.30" y="1120.50" font-size="25" text-anchor="start" >NIM811</text>
<text x="1248.75" y="1119.70" font-size="24" text-anchor="middle" >-</text>
<text x="1282.00" y="1119.70" font-size="24" text-anchor="middle" >+</text>
<text x="1332.00" y="1119.70" font-size="24" text-anchor="middle" >-</text>
<text x="1365.75" y="1119.70" font-size="24" text-anchor="middle" >+</text>
<text x="1415.50" y="1119.70" font-size="24" text-anchor="middle" >-</text>
<text x="1449.25" y="1119.70" font-size="24" text-anchor="middle" >+</text>
<text x="1497.50" y="1119.70" font-size="24" text-anchor="middle" >-</text>
<text x="1532.00" y="1119.70" font-size="24" text-anchor="middle" >+</text>
<text x="1581.25" y="1119.70" font-size="24" text-anchor="middle" >-</text>
<text x="1615.00" y="1119.70" font-size="24" text-anchor="middle" >+</text>
<text x="1665.50" y="1119.70" font-size="24" text-anchor="middle" >-</text>
<text x="1699.50" y="1119.70" font-size="24" text-anchor="middle" >+</text>
</svg>
</body></html>
